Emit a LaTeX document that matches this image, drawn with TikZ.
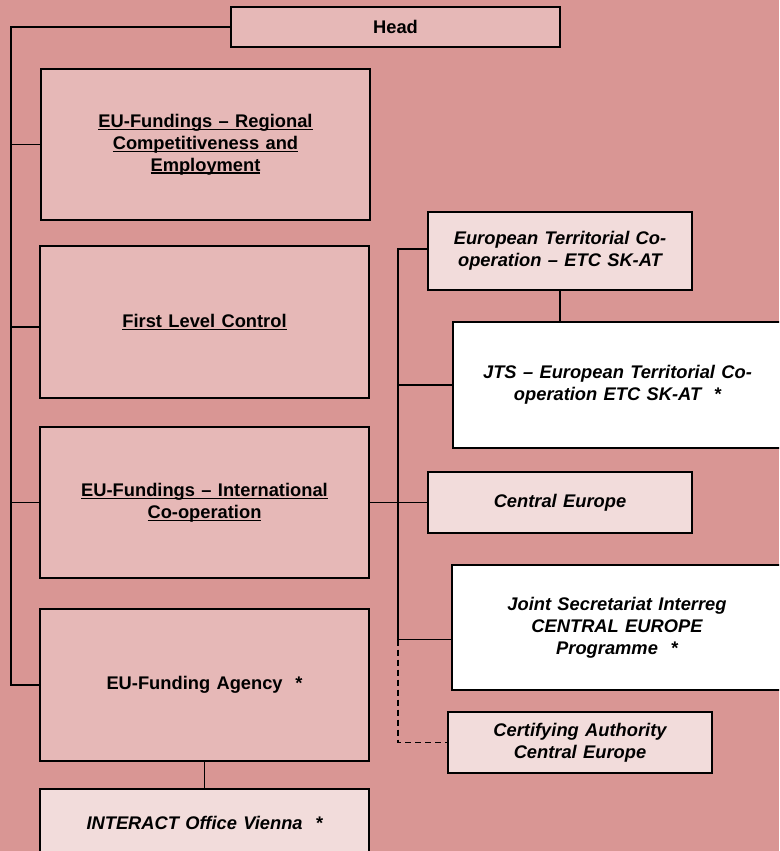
\documentclass[tikz,border=0pt]{standalone}
\usepackage{fontspec}
\setmainfont{Liberation Sans}[WordSpace={1.25,1,1}]
\usetikzlibrary{calc}
\definecolor{bgpink}{HTML}{D99694}
\definecolor{midpink}{HTML}{E6B8B7}
\definecolor{lightpink}{HTML}{F2DCDB}
\newcommand\ulx[1]{\setbox0\hbox{#1}\rlap{\rule[-2.6pt]{\wd0}{1.2pt}}\box0}
\begin{document}
\begin{tikzpicture}[x=1pt,y=-1pt,
  box/.style={draw=black, line width=1.4pt, inner sep=0pt, outer sep=0pt, align=center,
    font=\fontsize{18.3}{21.8}\selectfont\bfseries},
  lbox/.style={box, fill=midpink},
  rbox/.style={box, fill=lightpink, font=\fontsize{18.3}{21.8}\selectfont\bfseries\itshape},
  wbox/.style={box, fill=white, font=\fontsize{18.3}{21.8}\selectfont\bfseries\itshape},
  conn/.style={draw=black, line width=1.3pt},
  dconn/.style={conn, dashed, dash pattern=on 6pt off 4pt}]
\useasboundingbox (0,0) rectangle (779,851);
\clip (0,0) rectangle (779,851);
\fill[bgpink] (0,0) rectangle (779,851);

% left column
\node[lbox, minimum width=329pt, minimum height=40pt] (head) at (395.5,27) {Head};
\node[lbox, minimum width=329pt, minimum height=151pt] (b1) at (205.5,144.5)
  {\ulx{EU-Fundings – Regional}\\\ulx{Competitiveness and}\\\ulx{Employment}};
\node[lbox, minimum width=329pt, minimum height=152pt] (b2) at (204.5,322)
  {\ulx{First Level Control}};
\node[lbox, minimum width=329pt, minimum height=151pt] (b3) at (204.5,502.5)
  {\ulx{EU-Fundings – International}\\\ulx{Co-operation}};
\node[lbox, minimum width=329pt, minimum height=152pt] (b4) at (204.5,685)
  {EU-Funding Agency\ \ *};
\node[rbox, minimum width=329pt, minimum height=68pt] (b5) at (204.5,823)
  {INTERACT Office Vienna\ \ *};

% right column
\node[rbox, minimum width=264pt, minimum height=78pt] (etc) at (560,251)
  {European Territorial Co-\\operation – ETC SK-AT};
\node[wbox, minimum width=329pt, minimum height=126pt] (jts) at (617.5,385)
  {JTS – European Territorial Co-\\operation ETC SK-AT\ \ *};
\node[rbox, minimum width=264pt, minimum height=61pt] (ce) at (560,502.5)
  {Central Europe};
\node[wbox, minimum width=330pt, minimum height=125pt] (js) at (617,627.5)
  {Joint Secretariat Interreg\\CENTRAL EUROPE\\Programme\ \ *};
\node[rbox, minimum width=264pt, minimum height=61pt] (ca) at (580,742.5)
  {Certifying Authority\\Central Europe};

% left spine
\coordinate (ls) at (11,27);
\draw[conn] (head.west) -- (ls) |- (b4.west);
\draw[conn] (b1.west) -- (b1.west -| ls);
\draw[conn] ($(b2.west)+(0,5)$) -- ($(b2.west -| ls)+(0,5)$);
\draw[conn] (b3.west) -- (b3.west -| ls);
\draw[conn] (b4.south) -- (b5.north);

% right spine
\coordinate (rs) at (398,249);
\coordinate (jsc) at ($(js.west)+(0,12)$);
\draw[conn] ($(etc.west)+(0,-2)$) -- (rs) -- (rs |- jsc) -- (jsc);
\draw[conn] (b3.east) -- (ce.west);
\draw[conn] (jts.west) -- (jts.west -| rs);
\draw[conn] (etc.south) -- (etc.south |- jts.north);
\draw[dconn] (rs |- jsc) |- (ca.west);
\end{tikzpicture}
\end{document}
